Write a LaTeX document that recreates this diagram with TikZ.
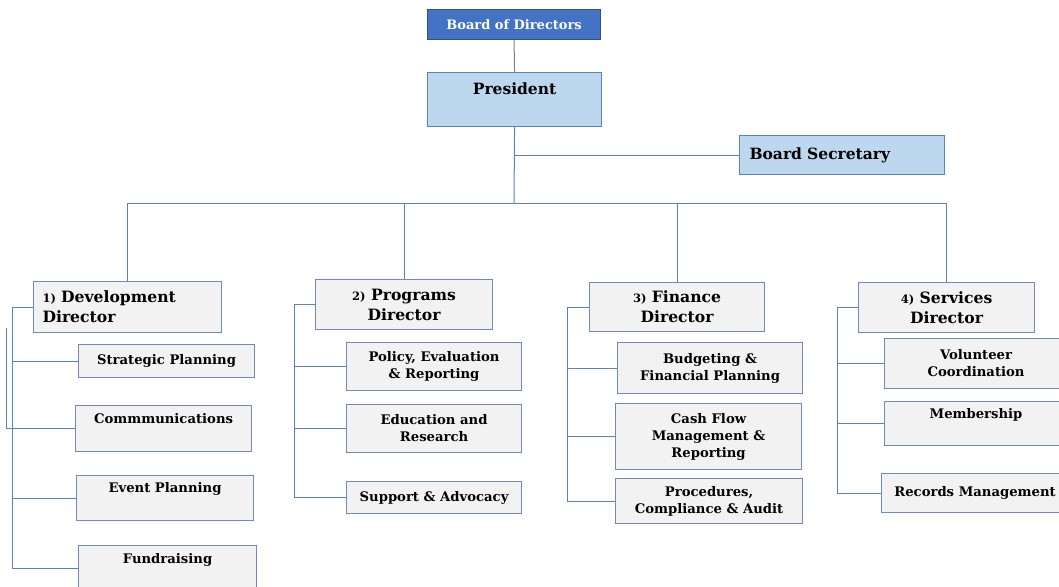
\documentclass[tikz,border=0pt]{standalone}
\usepackage{fontspec}
\setmainfont{DejaVu Serif}
\usepackage{xcolor}
\usepackage{tikz}

\definecolor{bodblue}{HTML}{4472C4}
\definecolor{bodedge}{HTML}{2F528F}
\definecolor{paleblue}{HTML}{BDD7EE}
\definecolor{paleedge}{HTML}{5B80C4}
\definecolor{unitgray}{HTML}{F2F2F2}
\definecolor{unitedge}{HTML}{7089BF}
\definecolor{linkblue}{HTML}{5A7FC6}

\tikzstyle{board} = [rectangle, anchor=north west,
fill=bodblue, draw=bodedge, line width=1.1pt,
text=white, font=\bfseries\fontsize{13}{16}\selectfont]
\tikzstyle{head} = [rectangle, anchor=north west,
fill=paleblue, draw=paleedge, line width=1.1pt,
font=\bfseries\fontsize{15.5}{20}\selectfont]
\tikzstyle{director} = [rectangle, anchor=north west,
fill=unitgray, draw=unitedge, line width=1.1pt,
align=center,
font=\bfseries\fontsize{15.6}{20}\selectfont]
\tikzstyle{unit} = [rectangle, anchor=north west,
fill=unitgray, draw=unitedge, line width=1.1pt,
align=center,
font=\bfseries\fontsize{13.2}{17}\selectfont]
\tikzstyle{link} = [draw=linkblue, line width=1pt]

\tikzset{
  wh/.style 2 args={minimum width=#1pt, minimum height=#2pt},
  toptext/.style={text height=10pt, text depth=#1pt}
}

\newcommand{\num}[1]{{\fontsize{11.5}{13}\selectfont #1)}}

\begin{document}
\begin{tikzpicture}[x=1pt, y=-1pt]

\useasboundingbox (0,0) rectangle (1059,586);

% top of the chart
\node (bod) [board, wh={173}{30}] at (427,9) {Board of Directors};
\node (pres) [head, wh={174}{54}, text height=12pt, text depth=22pt] at (427,72) {President};
\node (sec) [head, wh={205}{39}, align=left, text width=185pt, inner xsep=10pt] at (739,135) {Board Secretary};

% directors
\node (dev) [director, wh={188}{51}, align=left, text width=170pt, inner xsep=9pt] at (33,281) {\num{1} Development\\Director};
\node (prog) [director, wh={177}{50}] at (315,279) {\num{2} Programs\\Director};
\node (fin) [director, wh={175}{49}] at (589,282) {\num{3} Finance\\Director};
\node (serv) [director, wh={176}{50}] at (858,282) {\num{4} Services\\Director};

% development units
\node (strat) [unit, wh={176}{33}] at (78,344) {Strategic Planning};
\node (comm) [unit, wh={176}{46}, toptext=20] at (75,405) {Commmunications};
\node (event) [unit, wh={177}{45}, toptext=21] at (76,475) {Event Planning};
\node (fund) [unit, wh={178}{45}, toptext=20] at (78,545) {Fundraising};

% programs units
\node (policy) [unit, wh={175}{48}] at (346,342) {Policy, Evaluation\\\& Reporting};
\node (edu) [unit, wh={175}{48}] at (346,404) {Education and\\Research};
\node (supp) [unit, wh={175}{32}] at (346,481) {Support \& Advocacy};

% finance units
\node (budget) [unit, wh={185}{51}] at (617,342) {Budgeting \&\\Financial Planning};
\node (cash) [unit, wh={186}{66}] at (615,403) {Cash Flow\\Management \&\\Reporting};
\node (proc) [unit, wh={187}{45}] at (615,478) {Procedures,\\Compliance \& Audit};

% services units
\node (vol) [unit, wh={183}{50}] at (884,338) {Volunteer\\Coordination};
\node (memb) [unit, wh={183}{44}, toptext=20] at (884,401) {Membership};
\node (rec) [unit, wh={187}{39}] at (881,473) {Records Management};

\coordinate (hub) at (514,203);
\coordinate (stray) at (6,328);

\draw [link, draw=gray] (bod.south) -- (pres.north);
\draw [link] (pres.south) |- (sec.west);
\draw [link] (pres.south) -- (hub);
\draw [link] (hub) -| (dev.north);
\draw [link] (hub) -| (prog.north);
\draw [link] (hub) -| (fin.north);
\draw [link] (hub) -| (serv.north);

\draw [link] (dev.west) -- +(-21,0) |- (strat.west);
\draw [link] (dev.west) -- +(-21,0) |- (comm.west);
\draw [link] (dev.west) -- +(-21,0) |- (event.west);
\draw [link] (dev.west) -- +(-21,0) |- (fund.west);
\draw [link] (stray) |- (comm.west);

\draw [link] (prog.west) -- +(-21,0) |- (policy.west);
\draw [link] (prog.west) -- +(-21,0) |- (edu.west);
\draw [link] (prog.west) -- +(-21,0) |- (supp.west);

\draw [link] (fin.west) -- +(-22,0) |- (budget.west);
\draw [link] (fin.west) -- +(-22,0) |- (cash.west);
\draw [link] (fin.west) -- +(-22,0) |- (proc.west);

\draw [link] (serv.west) -- +(-21,0) |- (vol.west);
\draw [link] (serv.west) -- +(-21,0) |- (memb.west);
\draw [link] (serv.west) -- +(-21,0) |- (rec.west);

\end{tikzpicture}
\end{document}
